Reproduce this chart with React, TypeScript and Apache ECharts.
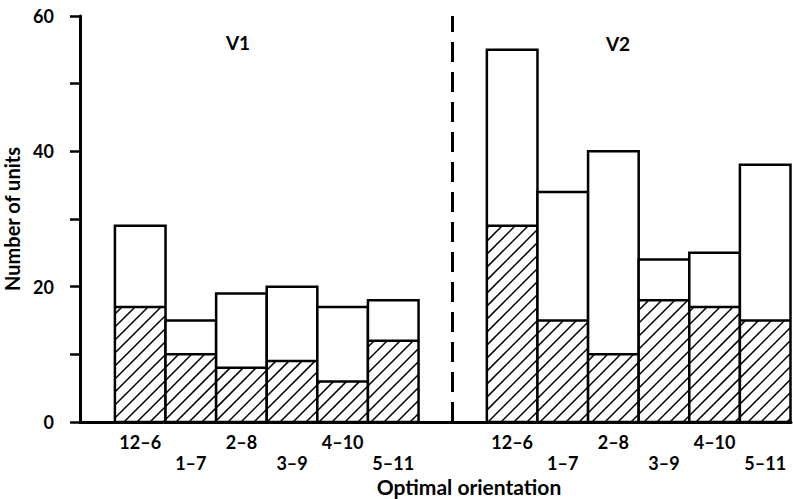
import React, { useEffect, useRef } from 'react';
import * as echarts from 'echarts';

// ---- Data ----
const categories = ['12–6', '1–7', '2–8', '3–9', '4–10', '5–11'];
const v1Hatched = [17, 10, 8, 9, 6, 12];
const v1Total = [29, 15, 19, 20, 17, 18];
const v2Hatched = [29, 15, 10, 18, 17, 15];
const v2Total = [55, 34, 40, 24, 25, 38];
const groupNames = ['V1', 'V2'];
const yTickLabels = [0, 20, 40, 60];

// ---- Layout (in bar-width units along the x value axis) ----
const X_MAX = 14.05;
const GROUP_START = [0.69, 8.04];
const DIVIDER = 7.35;

const FONT = 'Lato, "Open Sans", sans-serif';

export default function App() {
  const ref = useRef<HTMLDivElement>(null);

  useEffect(() => {
    if (!ref.current) return;
    const chart = echarts.init(ref.current, null, { renderer: 'svg' });

    const groups = [
      { hatched: v1Hatched, total: v1Total },
      { hatched: v2Hatched, total: v2Total },
    ];
    const data: number[][] = [];
    groups.forEach((g, gi) => {
      categories.forEach((_, i) => {
        data.push([GROUP_START[gi] + i, g.hatched[i], g.total[i], i]);
      });
    });

    const renderItem = (params: any, api: any) => {
      const x = api.value(0);
      const h = api.value(1);
      const t = api.value(2);
      const idx = api.value(3);
      const bl = api.coord([x, 0]);
      const tr = api.coord([x + 1, t]);
      const hm = api.coord([x + 1, h]);
      const x0 = bl[0];
      const x1 = tr[0];
      const yb = bl[1];
      const yt = tr[1];
      const yh = hm[1];
      const children: any[] = [];
      children.push({
        type: 'rect',
        shape: { x: x0, y: yt, width: x1 - x0, height: yb - yt },
        style: { fill: '#fff', stroke: 'none' },
      });
      const step = 13;
      const cStart = Math.ceil((x0 + yh) / step) * step;
      for (let c = cStart; c <= x1 + yb; c += step) {
        const lo = Math.max(x0, c - yb);
        const hi = Math.min(x1, c - yh);
        if (hi - lo > 0.5) {
          children.push({
            type: 'line',
            shape: { x1: lo, y1: c - lo, x2: hi, y2: c - hi },
            style: { stroke: '#000', lineWidth: 1.5 },
          });
        }
      }
      children.push({
        type: 'line',
        shape: { x1: x0, y1: yh, x2: x1, y2: yh },
        style: { stroke: '#000', lineWidth: 2.5 },
      });
      children.push({
        type: 'rect',
        shape: { x: x0, y: yt, width: x1 - x0, height: yb - yt },
        style: { fill: 'none', stroke: '#000', lineWidth: 2.5 },
      });
      children.push({
        type: 'text',
        x: (x0 + x1) / 2,
        y: yb + (idx % 2 === 0 ? 20 : 41),
        style: {
          text: categories[idx],
          fill: '#000',
          fontSize: 18,
          fontWeight: 'bold',
          fontFamily: FONT,
          align: 'center',
          verticalAlign: 'middle',
        },
      });
      return { type: 'group', children };
    };

    chart.setOption({
      animation: false,
      backgroundColor: '#fff',
      grid: { left: 80, right: 2, top: 16, bottom: 77, outerBoundsMode: 'none', containLabel: false },
      xAxis: {
        type: 'value',
        min: 0,
        max: X_MAX,
        axisLine: { show: true, onZero: false, lineStyle: { color: '#000', width: 3 } },
        axisTick: { show: false },
        axisLabel: { show: false },
        splitLine: { show: false },
      },
      yAxis: {
        type: 'value',
        min: 0,
        max: 60,
        interval: 10,
        name: 'Number of units',
        nameLocation: 'middle',
        nameGap: 46,
        nameRotate: 90,
        nameTextStyle: { color: '#000', fontSize: 20, fontWeight: 'bold', fontFamily: FONT },
        axisLine: { show: true, lineStyle: { color: '#000', width: 3 } },
        axisTick: { show: true, length: 10, lineStyle: { color: '#000', width: 2.5 } },
        axisLabel: {
          color: '#000',
          fontSize: 18,
          fontWeight: 'bold',
          fontFamily: FONT,
          margin: 26,
          formatter: (v: number) => (yTickLabels.includes(v) ? String(v) : ''),
        },
        splitLine: { show: false },
      },
      graphic: [
        {
          type: 'text',
          x: 238,
          y: 42,
          style: { text: groupNames[0], fill: '#000', fontSize: 19, fontWeight: 'bold', fontFamily: FONT, align: 'center', verticalAlign: 'middle' },
        },
        {
          type: 'text',
          x: 618,
          y: 43,
          style: { text: groupNames[1], fill: '#000', fontSize: 19, fontWeight: 'bold', fontFamily: FONT, align: 'center', verticalAlign: 'middle' },
        },
        {
          type: 'text',
          x: 469,
          y: 486,
          style: { text: 'Optimal orientation', fill: '#000', fontSize: 21, fontWeight: 'bold', fontFamily: FONT, align: 'center', verticalAlign: 'middle' },
        },
      ],
      series: [
        {
          type: 'custom',
          renderItem,
          data,
          clip: false,
          encode: { x: 0, y: 2 },
          markLine: {
            silent: true,
            symbol: 'none',
            label: { show: false },
            lineStyle: { color: '#000', width: 3, type: [20, 10] },
            data: [{ xAxis: DIVIDER }],
          },
        },
      ],
    });

    return () => chart.dispose();
  }, []);

  return (
    <div
      ref={ref}
      style={{ position: 'fixed', left: 0, top: 0, width: 793, height: 499, background: '#fff' }}
    />
  );
}
